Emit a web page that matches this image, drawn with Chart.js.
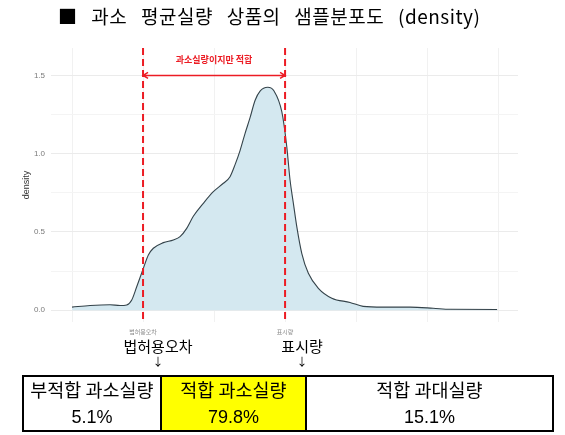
<!DOCTYPE html>
<html>
<head>
<meta charset="utf-8">
<script src="https://cdn.jsdelivr.net/npm/chart.js@4"></script>
<style>
  body { margin: 0; background: #fff; font-family: "Noto Sans CJK KR", "Noto Sans", sans-serif; }
  #wrap { position: relative; width: 565px; height: 435px; overflow: hidden; }
  #chart { position: absolute; left: 0; top: 0; }
  .title { position: absolute; left: 58px; top: 2px; font-size: 19px; letter-spacing: 0.5px; word-spacing: 9px; color: #000; white-space: nowrap; }
  .mark { position: absolute; font-size: 15px; color: #000; transform: translateX(-50%); white-space: nowrap; line-height: 1; }
  .arrow { position: absolute; font-size: 11px; color: #000; transform: translateX(-50%); line-height: 1; }
  #zones { position: absolute; left: 22px; top: 375px; width: 532px; height: 57px; border: 2px solid #000; box-sizing: border-box; display: flex; }
  #zones > div { box-sizing: border-box; text-align: center; border-left: 2px solid #000; }
  #zones > div:first-child { border-left: none; }
  #zones .name { font-size: 18.5px; line-height: 24px; }
  #zones .share { font-family: "Liberation Sans", Arial, sans-serif; font-size: 18px; line-height: 32px; }
</style>
</head>
<body>
<div id="wrap">
  <canvas id="chart" width="565" height="435"></canvas>
  <div class="title">■ 과소 평균실량 상품의 샘플분포도 (density)</div>
  <div id="marks"></div>
  <div id="zones"></div>
</div>
<script>
// density curve (x: 0..6 between the outer grid lines, 1 = 법허용오차, 3 = 표시량)
const xValues = [0, 0.254, 0.535, 0.676, 0.770, 0.841, 0.911, 0.996, 1.075, 1.145, 1.286, 1.427, 1.521, 1.615, 1.708, 1.849, 1.990, 2.131, 2.225, 2.296, 2.366, 2.437, 2.507, 2.577, 2.648, 2.756, 2.845, 2.954, 3.024, 3.070, 3.117, 3.165, 3.235, 3.328, 3.469, 3.658, 3.915, 4.099, 4.380, 4.761, 5.085, 5.324, 5.986];
const densityValues = [0.02, 0.03, 0.035, 0.03, 0.034, 0.066, 0.15, 0.257, 0.353, 0.396, 0.432, 0.449, 0.47, 0.523, 0.6, 0.683, 0.757, 0.811, 0.853, 0.93, 1.02, 1.13, 1.23, 1.34, 1.40, 1.424, 1.40, 1.268, 1.045, 0.832, 0.683, 0.534, 0.364, 0.236, 0.14, 0.077, 0.05, 0.025, 0.02, 0.02, 0.013, 0.006, 0.005];

const yTicks = [0, 0.25, 0.5, 0.75, 1.0, 1.25, 1.5];
const xGrid = [0, 1, 2, 3, 4, 5, 6];
const markerPositions = [1, 3];
const markerLabels = ['법허용오차', '표시량'];
const bandLabel = '과소실량이지만 적합';
const bandY = 1.5;
const bandLabelY = 1.6;

const zoneLabels = ['부적합 과소실량', '적합 과소실량', '적합 과대실량'];
const zoneShares = ['5.1%', '79.8%', '15.1%'];
const zoneColors = ['#ffffff', '#ffff00', '#ffffff'];
const zoneWidths = [137, 146, 249];

const RED = '#ec1c24';

// 빨간 점선 + 양방향 화살표 + 문구
const limitLines = {
    id: 'limitLines',
    afterDatasetsDraw(chart) {
        const { ctx, chartArea, scales } = chart;
        const xs = markerPositions.map(v => scales.x.getPixelForValue(v));
        ctx.save();
        ctx.strokeStyle = RED;
        ctx.lineWidth = 2;
        ctx.setLineDash([7, 4]);
        xs.forEach(px => {
            ctx.beginPath();
            ctx.moveTo(px, chartArea.top);
            ctx.lineTo(px, chartArea.bottom);
            ctx.stroke();
        });
        ctx.setLineDash([]);
        const ay = scales.y.getPixelForValue(bandY);
        ctx.lineWidth = 1.5;
        ctx.beginPath();
        ctx.moveTo(xs[0], ay);
        ctx.lineTo(xs[1], ay);
        ctx.moveTo(xs[0] + 5, ay - 3);
        ctx.lineTo(xs[0], ay);
        ctx.lineTo(xs[0] + 5, ay + 3);
        ctx.moveTo(xs[1] - 5, ay - 3);
        ctx.lineTo(xs[1], ay);
        ctx.lineTo(xs[1] - 5, ay + 3);
        ctx.stroke();
        ctx.fillStyle = RED;
        ctx.font = 'bold 9px "Noto Sans CJK KR"';
        ctx.textAlign = 'center';
        ctx.textBaseline = 'middle';
        ctx.fillText(bandLabel, (xs[0] + xs[1]) / 2, scales.y.getPixelForValue(bandLabelY));
        ctx.restore();
    }
};

const chart = new Chart(document.getElementById('chart'), {
    type: 'line',
    data: {
        datasets: [{
            data: xValues.map((x, i) => ({ x: x, y: densityValues[i] })),
            borderColor: '#34434a',
            borderWidth: 1.1,
            backgroundColor: '#d4e8f0',
            fill: 'origin',
            pointRadius: 0,
            cubicInterpolationMode: 'monotone'
        }]
    },
    options: {
        responsive: false,
        animation: false,
        layout: { padding: { left: 17, top: 48, right: 47, bottom: 99 } },
        plugins: { legend: { display: false }, tooltip: { enabled: false } },
        scales: {
            x: {
                type: 'linear',
                min: -0.296,
                max: 6.28,
                afterBuildTicks: s => { s.ticks = xGrid.map(v => ({ value: v })); },
                afterFit: s => { s.height = 14; },
                ticks: {
                    autoSkip: false,
                    maxRotation: 0,
                    padding: 6,
                    color: '#8a8a8a',
                    font: { size: 6, family: '"Noto Sans CJK KR"' },
                    callback: v => {
                        const i = markerPositions.indexOf(v);
                        return i >= 0 ? markerLabels[i] : '';
                    }
                },
                grid: { color: '#f1f1f1', drawTicks: false },
                border: { display: false }
            },
            y: {
                min: -0.075,
                max: 1.675,
                afterBuildTicks: s => { s.ticks = yTicks.map(v => ({ value: v })); },
                afterFit: s => { s.width = 34; },
                ticks: {
                    padding: 6,
                    color: '#7a7a7a',
                    font: { size: 8, family: '"Liberation Sans"' },
                    callback: v => (Math.round(v * 2) === v * 2 ? v.toFixed(1) : '')
                },
                grid: {
                    drawTicks: false,
                    color: c => (Math.round(c.tick.value * 2) === c.tick.value * 2 ? '#ebebeb' : '#f4f4f4')
                },
                border: { display: false },
                title: {
                    display: true,
                    text: 'density',
                    color: '#333',
                    font: { size: 9, family: '"Liberation Sans"' },
                    padding: { top: 4, bottom: 0 }
                }
            }
        }
    },
    plugins: [limitLines]
});

// 그래프 아래 큰 표시
const marksEl = document.getElementById('marks');
const markOffsets = [15, 17];
markerPositions.forEach((v, i) => {
    const px = chart.scales.x.getPixelForValue(v) + markOffsets[i];
    const t = document.createElement('div');
    t.className = 'mark';
    t.style.left = px + 'px';
    t.style.top = '338px';
    t.innerText = markerLabels[i];
    marksEl.appendChild(t);
    const a = document.createElement('div');
    a.className = 'arrow';
    a.style.left = px + 'px';
    a.style.top = '356px';
    a.innerText = '↓';
    marksEl.appendChild(a);
});

// 구간 비율 표
const zonesEl = document.getElementById('zones');
zoneLabels.forEach((name, i) => {
    const cell = document.createElement('div');
    cell.style.width = zoneWidths[i] + 'px';
    cell.style.background = zoneColors[i];
    cell.innerHTML = `<div class="name">${name}</div><div class="share">${zoneShares[i]}</div>`;
    zonesEl.appendChild(cell);
});
</script>
</body>
</html>
